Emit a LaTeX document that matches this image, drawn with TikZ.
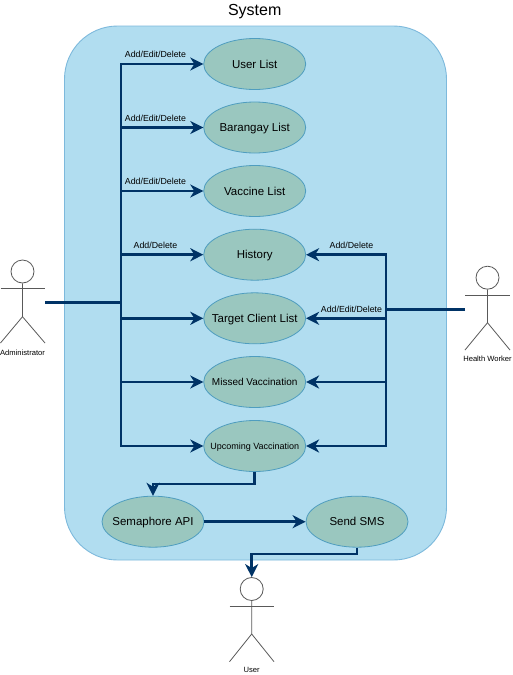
\documentclass[tikz,border=0pt]{standalone}
\usepackage{fontspec}
\setmainfont{Liberation Sans}
\usetikzlibrary{arrows.meta,shapes.geometric}
\definecolor{sysfill}{HTML}{B1DDF0}
\definecolor{sysline}{HTML}{7DB9DC}
\definecolor{ucfill}{HTML}{9AC7BF}
\definecolor{ucline}{HTML}{4F9DBF}
\definecolor{conn}{HTML}{003366}
\newcommand{\uctext}[1]{\makebox[0pt][c]{#1}}
\tikzset{
 x=1pt,y=-1pt,
 usecase/.style={ellipse,draw=ucline,fill=ucfill,line width=0.8pt,minimum width=102pt,minimum height=51pt,inner sep=0pt,text=black,text height=9.5pt,text depth=1.5pt,font=\fontsize{11.5}{14}\selectfont},
 smallcase/.style={usecase,text height=8.5pt,text depth=2.5pt},
 link/.style={draw=conn,line width=2.5pt,-{Stealth[length=13pt,width=13pt,inset=4pt]}},
 feed/.style={draw=conn,line width=3pt},
 lbl/.style={inner sep=0pt,text height=6.5pt,text depth=2pt,font=\fontsize{8.8}{11}\selectfont},
 actorlbl/.style={inner sep=0pt,text height=6pt,text depth=1.5pt,font=\fontsize{7.6}{10}\selectfont},
 stick/.style={draw=black!65,line width=0.8pt},
}
\begin{document}
\begin{tikzpicture}
\useasboundingbox (0,0) rectangle (512,675);
\draw[draw=sysline,fill=sysfill,line width=0.9pt,rounded corners=53pt] (64.5,26) rectangle (446.5,560);
\node[inner sep=0pt,text height=11.5pt,text depth=3pt,font=\fontsize{16}{18}\selectfont] (title) at (254.7,11) {System};
\node[usecase] (userlist) at (254.7,64) {\uctext{User List}};
\node[usecase] (barangay) at (254.7,127.5) {\uctext{Barangay List}};
\node[usecase] (vaccine) at (254.7,191) {\uctext{Vaccine List}};
\node[usecase] (history) at (254.7,254.7) {\uctext{History}};
\node[usecase] (target) at (254.7,318.3) {\uctext{Target Client List}};
\node[smallcase,font=\fontsize{10}{13}\selectfont] (missed) at (254.7,382) {\uctext{Missed Vaccination}};
\node[smallcase,font=\fontsize{9}{11}\selectfont] (upcoming) at (254.7,446) {\uctext{Upcoming Vaccination}};
\node[usecase] (sema) at (153,521.7) {\uctext{Semaphore API}};
\node[usecase] (sms) at (357,521.7) {\uctext{Send SMS}};
% actors
\node[circle,stick,minimum size=23pt,inner sep=0pt] (adminhead) at (22.5,271.5) {};
\draw[stick] (adminhead.south) -- (22.5,316.7) -- (0.5,343);
\draw[stick] (22.5,316.7) -- (45,343);
\draw[stick] (0.5,288.5) -- (45,288.5);
\node[actorlbl] (adminlbl) at (22.5,353) {Administrator};
\node[circle,stick,minimum size=23pt,inner sep=0pt] (hwhead) at (487.5,277.7) {};
\draw[stick] (hwhead.south) -- (487.5,322.7) -- (465,350);
\draw[stick] (487.5,322.7) -- (510,350);
\draw[stick] (465,295) -- (510,295);
\node[actorlbl] (hwlbl) at (487.5,359.5) {Health Worker};
\node[circle,stick,minimum size=23pt,inner sep=0pt] (userhead) at (251.7,589) {};
\draw[stick] (userhead.south) -- (251.7,634) -- (229.5,661.7);
\draw[stick] (251.7,634) -- (274,661.7);
\draw[stick] (229.5,606.7) -- (274,606.7);
\node[actorlbl] (userlbl) at (251.7,670.5) {User};
% junctions
\coordinate (adminport) at (45,302);
\coordinate (adminbus) at (121,302);
\coordinate (hwport) at (465,309);
\coordinate (hwbus) at (386,309);
\coordinate (upbend) at (254.7,484);
\coordinate (smsbend) at (357,554);
% connectors
\draw[feed] (adminport) -- (adminbus);
\foreach \t in {userlist,barangay,vaccine,history,target,missed,upcoming}{
  \draw[link] (adminbus) |- (\t.west);
}
\draw[feed] (hwport) -- (hwbus);
\foreach \t in {history,target,missed,upcoming}{
  \draw[link] (hwbus) |- (\t.east);
}
\draw[link] (upcoming.south) -- (upbend) -| (sema.north);
\draw[link] (sema.east) -- (sms.west);
\draw[link] (sms.south) -- (smsbend) -| (userhead.north);
% labels
\node[lbl] (l1) at (155.5,55.7) {Add/Edit/Delete};
\node[lbl] (l2) at (155.5,119.2) {Add/Edit/Delete};
\node[lbl] (l3) at (155.5,182.7) {Add/Edit/Delete};
\node[lbl] (l4) at (155.5,246.5) {Add/Delete};
\node[lbl] (l5) at (351.5,246.5) {Add/Delete};
\node[lbl] (l6) at (351.5,310.3) {Add/Edit/Delete};
\end{tikzpicture}
\end{document}
